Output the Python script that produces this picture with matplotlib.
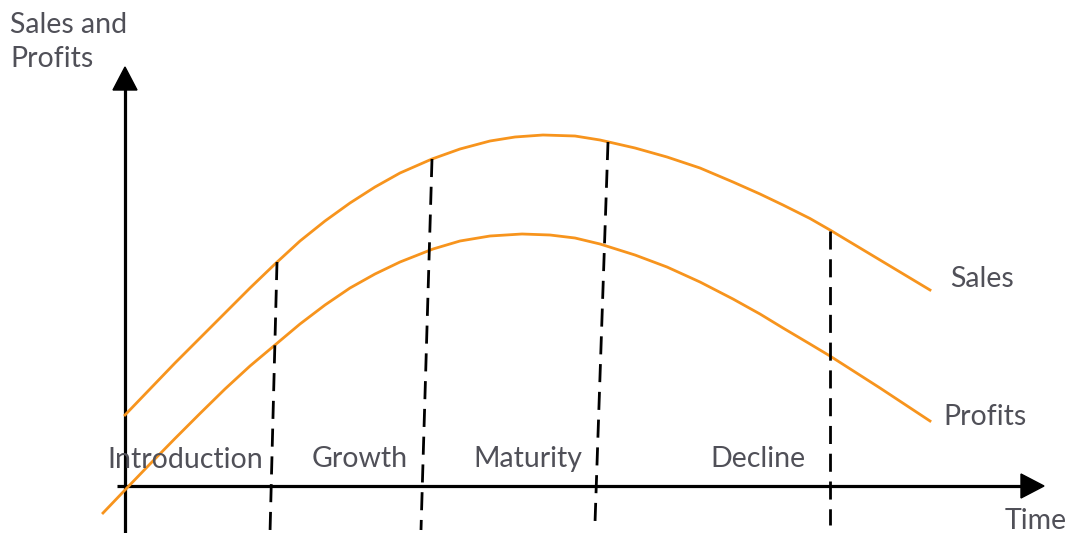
import matplotlib
matplotlib.use("Agg")
import matplotlib.pyplot as plt

# values (pixel space, y down)
sales_x = [125, 150, 175, 200, 225, 250, 275, 300, 325, 350, 375, 400, 432, 460, 490,
           515, 543, 575, 600, 635, 667, 700, 733, 760, 783, 810, 830, 855, 880, 905, 930]
sales_y = [415, 389, 363, 338, 313, 288, 264, 241, 221, 203, 187, 173, 159, 149, 141,
           137, 135, 136, 140, 148, 157, 168, 182, 194, 205, 218.5, 230, 245, 260, 275, 290]

profit_x = [103, 125, 150, 175, 200, 225, 250, 275, 300, 325, 350, 375, 400, 433, 460, 490,
            522, 550, 575, 600, 635, 667, 700, 733, 760, 783, 810, 830, 855, 880, 905, 930]
profit_y = [513, 490, 464, 438.5, 413.5, 389, 366, 345, 324, 305, 288, 274, 262, 249, 241, 236,
            234, 235, 238, 244, 255, 267, 282, 299, 314, 328, 344, 356, 372, 388, 404.5, 421]

# stage dividers: top point on the sales curve, bottom point below the time axis
div_top_x = [277, 432, 608, 830]
div_top_y = [262, 159, 142, 231]
div_bot_x = [270, 421, 595, 830]
div_bot_y = [533, 530, 523, 525]

stages = ["Introduction", "Growth", "Maturity", "Decline"]
stage_x = [185, 360, 528, 758]
stage_y = [468, 467, 467, 467]

orange = "#F7941D"
grey = "#505058"
plt.rcParams['font.family'] = ['Lato', 'DejaVu Sans']

fig = plt.figure(figsize=(10.68, 5.33), dpi=100)
ax = fig.add_axes([0, 0, 1, 1])
ax.set_xlim(0, 1068)
ax.set_ylim(533, 0)
ax.axis('off')

# axes with arrow heads
ax.plot([125, 125], [533, 88], color='black', lw=2.3, solid_capstyle='butt')
ax.fill([113, 137, 125], [90, 90, 67], color='black')
ax.plot([117, 1025], [486, 486], color='black', lw=2.3, solid_capstyle='butt')
ax.fill([1021, 1021, 1044], [474, 498, 486], color='black')

# curves
ax.plot(sales_x, sales_y, color=orange, lw=2.0, solid_joinstyle='round')
ax.plot(profit_x, profit_y, color=orange, lw=2.0, solid_joinstyle='round')

# dashed stage boundaries
for x0, y0, x1, y1 in zip(div_top_x, div_top_y, div_bot_x, div_bot_y):
    ax.plot([x0, x1], [y0, y1], color='black', lw=2.0, dashes=(6.5, 3.5))

fs = 20.5
for s, x, y in zip(stages, stage_x, stage_y):
    ax.text(x, y, s, ha='center', va='baseline', fontsize=fs, color=grey)

ax.text(950, 287, "Sales", ha='left', va='baseline', fontsize=fs, color=grey)
ax.text(943, 425, "Profits", ha='left', va='baseline', fontsize=fs, color=grey)
ax.text(1005, 529, "Time", ha='left', va='baseline', fontsize=fs, color=grey)
ax.text(10, 33, "Sales and", ha='left', va='baseline', fontsize=fs, color=grey)
ax.text(10, 67, "Profits", ha='left', va='baseline', fontsize=fs, color=grey)

fig.savefig("out.png", dpi=100)
